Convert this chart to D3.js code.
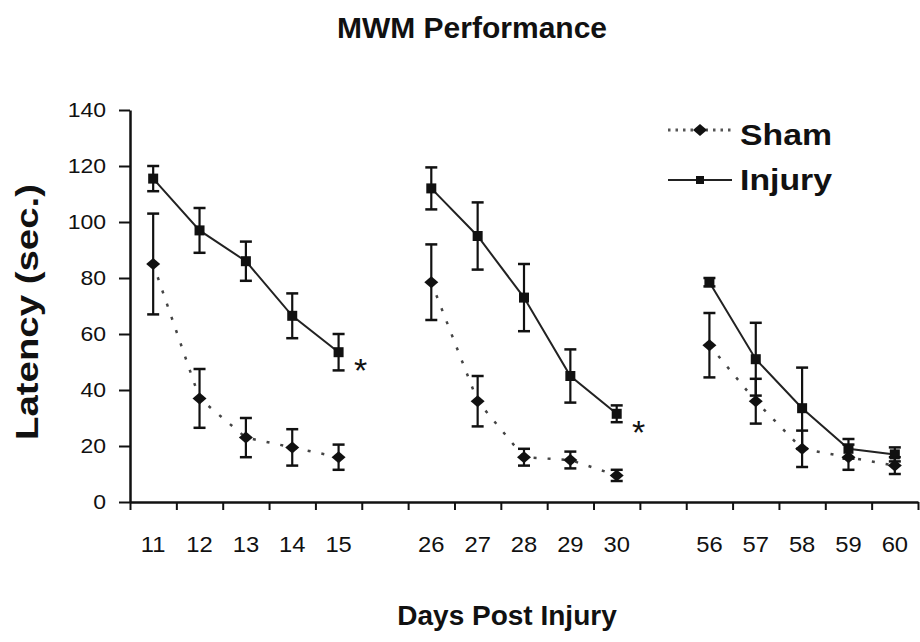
<!DOCTYPE html>
<html><head><meta charset="utf-8">
<script src="https://cdn.jsdelivr.net/npm/d3@7"></script>
<style>body{margin:0;background:#fff} svg{display:block;font-family:Arial,"Liberation Sans",sans-serif}</style>
</head><body>
<svg id="chart" width="920" height="642"></svg>
<script>
// ---- data ----
const groups = [["11","12","13","14","15"],["26","27","28","29","30"],["56","57","58","59","60"]];
const slots = ["11","12","13","14","15","gap1","26","27","28","29","30","gap2","56","57","58","59","60"];
const days = ["11","12","13","14","15","26","27","28","29","30","56","57","58","59","60"];
const shamMean   = [85, 37, 23, 19.5, 16, 78.5, 36, 16, 15, 9.5, 56, 36, 19, 16, 13];
const shamErr    = [18, 10.5, 7, 6.5, 4.5, 13.5, 9, 3, 3, 2, 11.5, 8, 6.5, 4.5, 3];
const injuryMean = [115.5, 97, 86, 66.5, 53.5, 112, 95, 73, 45, 31.5, 78.5, 51, 33.5, 19, 17];
const injuryErr  = [4.5, 8, 7, 8, 6.5, 7.5, 12, 12, 9.5, 3, 1.5, 13, 14.5, 3.5, 2.5];
const yTicks = [0, 20, 40, 60, 80, 100, 120, 140];
const significantDays = ["15", "30"];
const seriesNames = ["Sham", "Injury"];
const titleText = "MWM Performance";
const xTitle = "Days Post Injury";
const yTitle = "Latency (sec.)";

// ---- layout ----
const svg = d3.select("#chart");
const X0 = 130, X1 = 918, Y0 = 502, Y1 = 110;
const x = d3.scaleBand().domain(slots).range([X0, X1]).padding(0);
const xb = d3.scaleLinear().domain([0, slots.length]).range([X0, X1]);
const y = d3.scaleLinear().domain([0, 140]).range([Y0, Y1]);
const cx = d => x(d) + x.bandwidth() / 2;

// title
svg.append("text").attr("x", 472).attr("y", 38).attr("text-anchor", "middle")
  .attr("font-size", 30).attr("font-weight", "bold").attr("fill", "#111").text(titleText);

// y axis
const sy = 1.15;
const yAx = svg.append("g").attr("transform", `translate(${X0},0)`)
  .call(d3.axisLeft(y).tickValues(yTicks).tickSize(11).tickSizeOuter(0));
yAx.select(".domain").attr("stroke", "#111").attr("stroke-width", 2.5);
yAx.selectAll(".tick line").attr("stroke", "#111").attr("stroke-width", 2);
yAx.selectAll(".tick text").attr("font-size", 20).attr("fill", "#111")
  .attr("font-family", "Arial, 'Liberation Sans', sans-serif")
  .attr("x", -24 / sy).attr("transform", `scale(${sy},1)`);

// x axis boundary ticks
const xAx = svg.append("g").attr("transform", `translate(0,${Y0})`)
  .call(d3.axisBottom(xb).tickValues(d3.range(0, slots.length + 1)).tickFormat("").tickSize(8).tickSizeOuter(0));
xAx.select(".domain").attr("stroke", "#111").attr("stroke-width", 2.5);
xAx.selectAll(".tick line").attr("stroke", "#111").attr("stroke-width", 2);

// x labels
const sx = 1.08;
const xl = svg.append("g").attr("transform", `translate(0,${Y0})`)
  .call(d3.axisBottom(x).tickValues(days).tickSize(0).tickPadding(34));
xl.select(".domain").remove();
xl.selectAll(".tick text").attr("font-size", 22).attr("fill", "#111")
  .attr("font-family", "Arial, 'Liberation Sans', sans-serif")
  .attr("transform", `scale(${sx},1)`);

// axis titles
svg.append("text").attr("x", 507).attr("y", 625).attr("text-anchor", "middle")
  .attr("font-size", 28).attr("font-weight", "bold").attr("fill", "#111").text(xTitle);
svg.append("text").attr("transform", "translate(38,312) rotate(-90)").attr("text-anchor", "middle")
  .attr("font-size", 31).attr("font-weight", "bold").attr("fill", "#111")
  .attr("textLength", 256).attr("lengthAdjust", "spacingAndGlyphs").text(yTitle);

// series
function seriesData(means, errs) {
  return days.map((d, i) => ({day: d, v: means[i], e: errs[i]}));
}
const sham = seriesData(shamMean, shamErr);
const injury = seriesData(injuryMean, injuryErr);
const line = d3.line().x(d => cx(d.day)).y(d => y(d.v));
const diamond = "M-7,0L0,-6L7,0L0,6Z";

groups.forEach(g => {
  svg.append("path").datum(sham.filter(d => g.includes(d.day))).attr("d", line)
    .attr("fill", "none").attr("stroke", "#444").attr("stroke-width", 2.5).attr("stroke-dasharray", "3,11");
  svg.append("path").datum(injury.filter(d => g.includes(d.day))).attr("d", line)
    .attr("fill", "none").attr("stroke", "#222").attr("stroke-width", 2);
});

function errorBars(data) {
  const eb = svg.append("g").attr("stroke", "#111");
  eb.selectAll("line.v").data(data).join("line").attr("class", "v")
    .attr("x1", d => cx(d.day)).attr("x2", d => cx(d.day))
    .attr("y1", d => y(d.v - d.e)).attr("y2", d => y(d.v + d.e)).attr("stroke-width", 2.2);
  eb.selectAll("line.t").data(data).join("line").attr("class", "t")
    .attr("x1", d => cx(d.day) - 6).attr("x2", d => cx(d.day) + 6)
    .attr("y1", d => y(d.v + d.e)).attr("y2", d => y(d.v + d.e)).attr("stroke-width", 2.5);
  eb.selectAll("line.b").data(data).join("line").attr("class", "b")
    .attr("x1", d => cx(d.day) - 6).attr("x2", d => cx(d.day) + 6)
    .attr("y1", d => y(d.v - d.e)).attr("y2", d => y(d.v - d.e)).attr("stroke-width", 2.5);
}
errorBars(sham);
errorBars(injury);

svg.append("g").selectAll("path").data(sham).join("path")
  .attr("d", diamond).attr("transform", d => `translate(${cx(d.day)},${y(d.v)})`).attr("fill", "#111");
svg.append("g").selectAll("rect").data(injury).join("rect")
  .attr("x", d => cx(d.day) - 5).attr("y", d => y(d.v) - 5).attr("width", 10).attr("height", 10).attr("fill", "#111");

// significance asterisks
svg.append("g").selectAll("text").data(injury.filter(d => significantDays.includes(d.day))).join("text")
  .attr("x", d => cx(d.day) + 22).attr("y", d => y(d.v) + 30).attr("text-anchor", "middle")
  .attr("font-size", 34).attr("fill", "#111").text("*");

// legend
const lg = svg.append("g");
lg.append("line").attr("x1", 668).attr("x2", 732).attr("y1", 130).attr("y2", 130)
  .attr("stroke", "#555").attr("stroke-width", 3).attr("stroke-dasharray", "2.5,5");
lg.append("path").attr("d", diamond).attr("transform", "translate(700,130)").attr("fill", "#111");
lg.append("line").attr("x1", 668).attr("x2", 732).attr("y1", 180).attr("y2", 180)
  .attr("stroke", "#222").attr("stroke-width", 2);
lg.append("rect").attr("x", 696).attr("y", 176).attr("width", 8).attr("height", 8).attr("fill", "#111");
lg.append("text").attr("x", 740).attr("y", 145).attr("font-size", 30).attr("font-weight", "bold")
  .attr("fill", "#111").attr("textLength", 92).attr("lengthAdjust", "spacingAndGlyphs").text(seriesNames[0]);
lg.append("text").attr("x", 740).attr("y", 190).attr("font-size", 30).attr("font-weight", "bold")
  .attr("fill", "#111").attr("textLength", 92).attr("lengthAdjust", "spacingAndGlyphs").text(seriesNames[1]);
</script>
</body></html>
